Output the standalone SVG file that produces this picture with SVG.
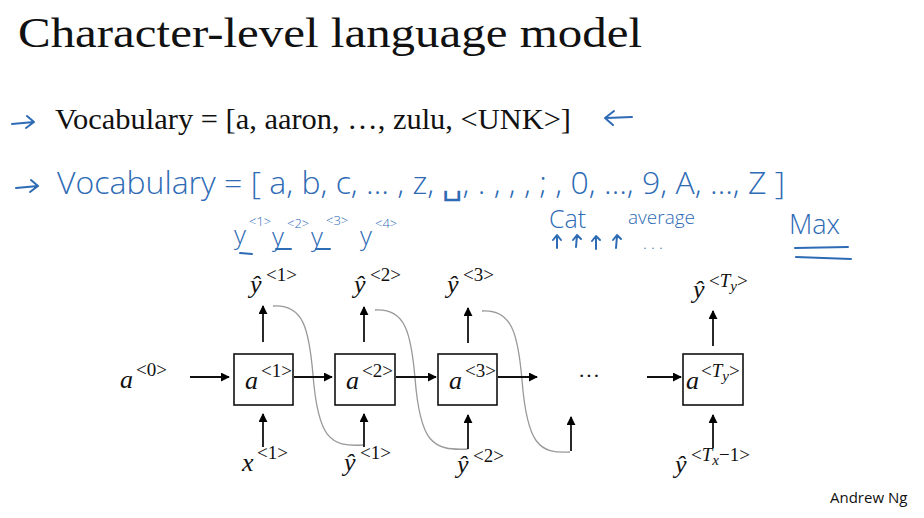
<svg xmlns="http://www.w3.org/2000/svg" width="924" height="518" viewBox="0 0 924 518">
<defs>
<marker id="ah" viewBox="0 0 10 10" refX="9" refY="5" markerWidth="9" markerHeight="9" markerUnits="userSpaceOnUse" orient="auto"><path d="M0,0 L10,5 L0,10 z" fill="#000"/></marker>
<style>
.serif{font-family:"Liberation Serif","DejaVu Serif",serif;fill:#111}
.math{font-family:"Liberation Serif","DejaVu Serif",serif;font-style:italic;fill:#111}
.sup{font-family:"Liberation Serif","DejaVu Serif",serif;font-style:normal;font-size:19px;fill:#111}
.hand{font-family:"Open Sans","Liberation Sans",sans-serif;font-weight:300;fill:#2e6bb5}
.ink{fill:none;stroke:#2e6bb5;stroke-width:2;stroke-linecap:round;stroke-linejoin:round}
.box{fill:#fff;stroke:#111;stroke-width:1.6}
.arr{stroke:#111;stroke-width:1.8;marker-end:url(#ah)}
.curve{fill:none;stroke:#999;stroke-width:1.3}
</style>
</defs>
<rect width="924" height="518" fill="#fff"/>
<text class="serif" x="18" y="47" font-size="42" textLength="624" lengthAdjust="spacingAndGlyphs">Character-level language model</text>
<text class="serif" x="55" y="129" font-size="30" textLength="516" lengthAdjust="spacingAndGlyphs">Vocabulary = [a, aaron, …, zulu, &lt;UNK&gt;]</text>
<g id="annotations">
<path class="ink" d="M12 124 L34 122 M27 116 L34 122 L26 128"/>
<path class="ink" d="M632 117 L606 118 M614 111 L605 118 L613 125"/>
<path class="ink" d="M16 188 L38 186 M31 180 L38 186 L30 192"/>
<text class="hand" x="57" y="194" font-size="32" textLength="728" lengthAdjust="spacingAndGlyphs">Vocabulary = [ a, b, c, … , z, ␣, . , , , ; , 0, …, 9, A, …, Z ]</text>
<text class="hand" x="234" y="244" font-size="26">y</text><text class="hand" x="249" y="226" font-size="13">&lt;1&gt;</text>
<text class="hand" x="272" y="246" font-size="26">y</text><text class="hand" x="287" y="228" font-size="13">&lt;2&gt;</text>
<text class="hand" x="311" y="246" font-size="26">y</text><text class="hand" x="326" y="225" font-size="13">&lt;3&gt;</text>
<text class="hand" x="360" y="245" font-size="26">y</text><text class="hand" x="375" y="228" font-size="13">&lt;4&gt;</text>
<path class="ink" d="M240 253 L252 254 M276 249 L291 249 M316 249 L330 249"/>
<text class="hand" x="549" y="228" font-size="25">Cat</text>
<path class="ink" d="M557 248 L557 236 M553 240 L557 235 L561 240 M576 247 L577 235 M573 240 L577 235 L581 239 M596 249 L596 237 M592 241 L596 236 L600 240 M616 248 L617 236 M613 240 L617 235 L621 239"/>
<text class="hand" x="628" y="224" font-size="19">average</text>
<text class="hand" x="643" y="249" font-size="16">. . .</text>
<text class="hand" x="789" y="234" font-size="27">Max</text>
<path class="ink" d="M795 248 L848 247 M796 257 L851 259"/>
</g>
<g id="connectors">
<path class="curve" d="M273 306 C303 304 309 328 313 375 C318 438 330 447 363 445"/>
<path class="curve" d="M375 310 C405 308 411 332 415 378 C420 442 432 451 468 449"/>
<path class="curve" d="M482 311 C512 309 518 334 522 380 C527 444 539 454 570 452"/>
<line class="arr" x1="190" y1="377" x2="229" y2="377"/>
<line class="arr" x1="294" y1="377" x2="332" y2="377"/>
<line class="arr" x1="396" y1="377" x2="436" y2="377"/>
<line class="arr" x1="498" y1="377" x2="537" y2="377"/>
<line class="arr" x1="647" y1="377" x2="681" y2="377"/>
<line class="arr" x1="263" y1="342" x2="263" y2="306"/>
<line class="arr" x1="364" y1="342" x2="364" y2="307"/>
<line class="arr" x1="468" y1="343" x2="468" y2="308"/>
<line class="arr" x1="713" y1="346" x2="713" y2="311"/>
<line class="arr" x1="263" y1="447" x2="263" y2="414"/>
<line class="arr" x1="364" y1="447" x2="364" y2="414"/>
<line class="arr" x1="468" y1="449" x2="468" y2="415"/>
<line class="arr" x1="571" y1="451" x2="571" y2="417"/>
<line class="arr" x1="713" y1="448" x2="713" y2="415"/>
</g>
<g id="a0"><text class="math" x="120" y="388" font-size="26">a</text><text class="sup" x="136" y="376">&lt;0&gt;</text></g>
<g id="cell1"><rect class="box" x="234" y="354" width="59" height="51"/><text class="math" x="245" y="389" font-size="26">a</text><text class="sup" x="261" y="377">&lt;1&gt;</text></g>
<g id="cell2"><rect class="box" x="335" y="354" width="60" height="51"/><text class="math" x="346" y="389" font-size="26">a</text><text class="sup" x="362" y="377">&lt;2&gt;</text></g>
<g id="cell3"><rect class="box" x="438" y="354" width="59" height="51"/><text class="math" x="449" y="389" font-size="26">a</text><text class="sup" x="465" y="377">&lt;3&gt;</text></g>
<g id="dots"><text class="serif" x="578" y="383" font-size="22">···</text></g>
<g id="cellT"><rect class="box" x="683" y="354" width="60" height="51"/><text class="math" x="686" y="389" font-size="26">a</text><text class="sup" x="701" y="377">&lt;<tspan font-style="italic">T</tspan><tspan font-style="italic" font-size="15" dy="4">y</tspan><tspan dy="-4">&gt;</tspan></text></g>
<g id="y1"><text class="math" x="250" y="293" font-size="26">ŷ</text><text class="sup" x="266" y="281">&lt;1&gt;</text></g>
<g id="y2"><text class="math" x="354" y="293" font-size="26">ŷ</text><text class="sup" x="370" y="281">&lt;2&gt;</text></g>
<g id="y3"><text class="math" x="447" y="293" font-size="26">ŷ</text><text class="sup" x="463" y="281">&lt;3&gt;</text></g>
<g id="yT"><text class="math" x="693" y="298" font-size="26">ŷ</text><text class="sup" x="709" y="287">&lt;<tspan font-style="italic">T</tspan><tspan font-style="italic" font-size="15" dy="4">y</tspan><tspan dy="-4">&gt;</tspan></text></g>
<g id="x1"><text class="math" x="242" y="471" font-size="26">x</text><text class="sup" x="257" y="459">&lt;1&gt;</text></g>
<g id="yin1"><text class="math" x="344" y="471" font-size="26">ŷ</text><text class="sup" x="360" y="459">&lt;1&gt;</text></g>
<g id="yin2"><text class="math" x="457" y="473" font-size="26">ŷ</text><text class="sup" x="473" y="462">&lt;2&gt;</text></g>
<g id="yinT"><text class="math" x="675" y="473" font-size="26">ŷ</text><text class="sup" x="691" y="461">&lt;<tspan font-style="italic">T</tspan><tspan font-style="italic" font-size="15" dy="4">x</tspan><tspan dy="-4">−1&gt;</tspan></text></g>
<text x="830" y="503" font-family="'Open Sans','Liberation Sans',sans-serif" font-size="15" fill="#111">Andrew Ng</text>
</svg>
